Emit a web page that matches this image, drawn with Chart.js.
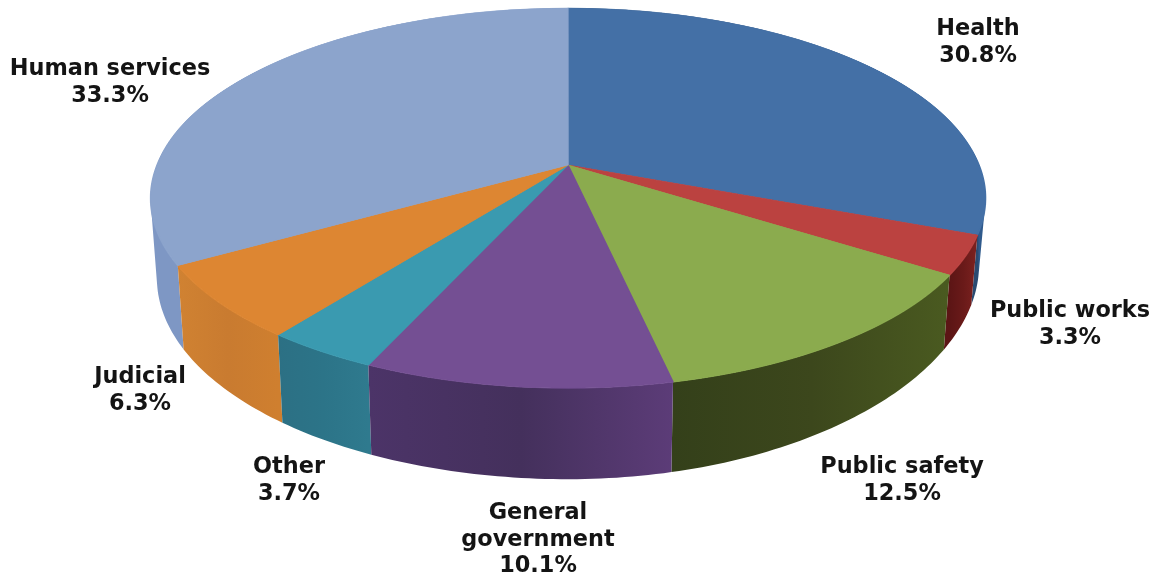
<!DOCTYPE html>
<html>
<head>
<meta charset="utf-8">
<style>
  html, body { margin: 0; padding: 0; background: #fff; }
  canvas { display: block; filter: blur(0.6px); }
</style>
<script src="https://cdn.jsdelivr.net/npm/chart.js@4"></script>
</head>
<body>
<canvas id="myChart" width="1158" height="577"></canvas>
<script>
// data
var categories = ["Health", "Public works", "Public safety", "General government", "Other", "Judicial", "Human services"];
var values = [30.8, 3.3, 12.5, 10.1, 3.7, 6.3, 33.3];

// colours: top of each slice, then wall (edge / middle / edge)
var topColors = ['#4470a6', '#bb4240', '#8bab4e', '#744f93', '#3a9ab0', '#dd8632', '#8ca4cc'];
var wallColors = [
  ['#2f5a8c', '#2b4f78', '#2a4a70'],
  ['#7d2220', '#6a1a19', '#5c1515'],
  ['#4a5a20', '#3c471c', '#34401a'],
  ['#5c3c78', '#44305c', '#4c3468'],
  ['#2f7a8e', '#2c7488', '#2c7084'],
  ['#cf7f2f', '#c97b30', '#d08232'],
  ['#7e97c4', '#7e97c4', '#7e97c4']
];

// label text lines and where they sit
var labelLines = [["Health"], ["Public works"], ["Public safety"], ["General", "government"], ["Other"], ["Judicial"], ["Human services"]];
var labelX = [978, 1070, 902, 538, 289, 140, 110];
var labelY = [29, 311, 467, 513, 467, 377, 69];

// perspective of the disc
var cx = 568, cy = 165;   // apex on screen
var R = 411, H = 184.3;   // disc size
var k = 0.174;            // perspective strength
var D = 78;               // wall height
var bottomScale = 0.985;  // bottom rim is a bit smaller
var rightDrop = 14;       // wall gets shorter towards the right

function project(a, level) {
  var u = Math.cos(a), v = Math.sin(a);
  var den = 1 - k * v;
  var s = 1 - (1 - bottomScale) * level;
  var wall = D / den - rightDrop * Math.pow(Math.max(u, 0), 2);
  return { x: cx + R * u * s / den, y: cy + H * v * s / den + level * wall };
}

function drawWall(ctx, arc, shades) {
  var a0 = arc.startAngle, a1 = arc.endAngle;
  var n = Math.ceil((a1 - a0) * 60);
  var pa = project(Math.max(a0, 0), 0), pb = project(Math.min(a1, Math.PI), 0);
  var g = ctx.createLinearGradient(pa.x, 0, pb.x, 0);
  g.addColorStop(0, shades[0]);
  g.addColorStop(0.5, shades[1]);
  g.addColorStop(1, shades[2]);
  ctx.fillStyle = g;
  // small quads in one path, all wound the same way, so there are no seams
  // and the part round the side of the pie gets filled too
  ctx.beginPath();
  for (var i = 0; i < n; i++) {
    var b = a0 + (a1 - a0) * i / n, c = a0 + (a1 - a0) * (i + 1) / n;
    var q = [project(b, 0), project(c, 0), project(c, 1), project(b, 1)];
    var area = 0;
    for (var j = 0; j < 4; j++) {
      var m = q[j], o = q[(j + 1) % 4];
      area += m.x * o.y - o.x * m.y;
    }
    if (area < 0) q.reverse();
    ctx.moveTo(q[0].x, q[0].y);
    ctx.lineTo(q[1].x, q[1].y);
    ctx.lineTo(q[2].x, q[2].y);
    ctx.lineTo(q[3].x, q[3].y);
    ctx.closePath();
  }
  ctx.fill();
}

var pie3d = {
  id: 'pie3d',
  beforeDatasetDraw: function (chart, args) {
    var ctx = chart.ctx;
    var arcs = args.meta.data;
    var ax = arcs[0].x, ay = arcs[0].y, r = arcs[0].outerRadius;

    // walls, back ones first
    var order = arcs.map(function (a, i) { return i; }).sort(function (p, q) {
      return Math.sin((arcs[p].startAngle + arcs[p].endAngle) / 2) - Math.sin((arcs[q].startAngle + arcs[q].endAngle) / 2);
    });
    order.forEach(function (i) { drawWall(ctx, arcs[i], wallColors[i]); });

    // top of the pie, one pixel row at a time so the library's arcs get the perspective
    var top = Math.floor(cy - H / (1 + k)) - 1, bottom = Math.ceil(cy + H / (1 - k)) + 1;
    for (var y = top; y <= bottom; y++) {
      var t = (y + 0.5 - cy) / H;
      var v = t / (1 + k * t);
      var den = 1 - k * v;
      var sx = R / den / r, sy = H / (den * den) / r;
      ctx.save();
      ctx.beginPath();
      ctx.rect(0, y, chart.width, 1);
      ctx.clip();
      ctx.setTransform(sx, 0, 0, sy, cx - ax * sx, (y + 0.5) - (ay + v * r) * sy);
      arcs.forEach(function (a) { a.draw(ctx); });
      ctx.restore();
    }
    return false;
  },
  afterDraw: function (chart) {
    var ctx = chart.ctx;
    ctx.save();
    ctx.font = 'bold 22.4px "DejaVu Sans"';
    ctx.fillStyle = '#141414';
    ctx.textAlign = 'center';
    ctx.textBaseline = 'middle';
    categories.forEach(function (c, i) {
      var lines = labelLines[i].concat([values[i].toFixed(1) + '%']);
      lines.forEach(function (s, j) {
        ctx.fillText(s, labelX[i], labelY[i] + j * 26.7);
      });
    });
    ctx.restore();
  }
};

var ctx1 = document.getElementById("myChart").getContext('2d');
var myChart = new Chart(ctx1, {
  type: 'pie',
  data: {
    labels: categories,
    datasets: [{
      data: values,
      backgroundColor: topColors,
      borderColor: topColors,
      borderWidth: 1
    }]
  },
  options: {
    responsive: false,
    animation: false,
    plugins: {
      legend: { display: false },
      tooltip: { enabled: false }
    }
  },
  plugins: [pie3d]
});
</script>
</body>
</html>
